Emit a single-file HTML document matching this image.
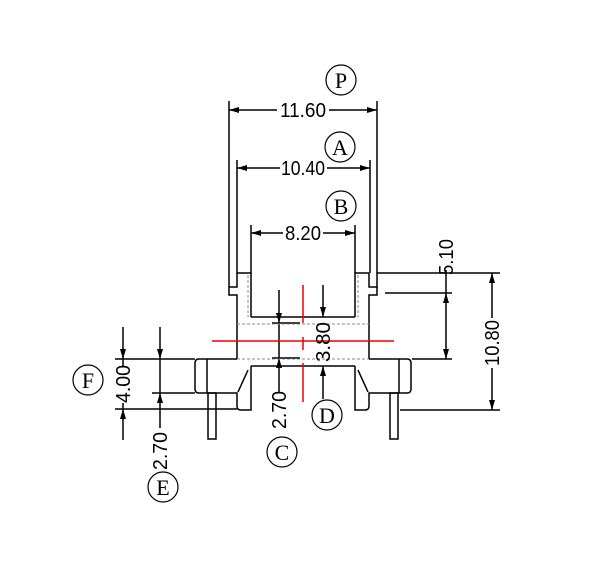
<!DOCTYPE html>
<html><head><meta charset="utf-8"><style>html,body{margin:0;padding:0;background:#fff}svg{display:block}</style></head>
<body>
<svg width="600" height="576" viewBox="0 0 600 576" xmlns="http://www.w3.org/2000/svg" font-family="Liberation Sans, sans-serif">
<defs>
<marker id="a" viewBox="0 0 10 6" refX="10" refY="3" markerWidth="10" markerHeight="6" markerUnits="userSpaceOnUse" orient="auto-start-reverse"><path d="M0,0 L10,3 L0,6 z" fill="#000"/></marker>
</defs>
<g stroke="#000" stroke-width="1.5" fill="none">
<line x1="229" y1="101" x2="229" y2="287"/>
<line x1="377" y1="101" x2="377" y2="287"/>
<line x1="237" y1="160" x2="237" y2="273"/>
<line x1="370" y1="160" x2="370" y2="273"/>
<line x1="251" y1="225" x2="251" y2="273"/>
<line x1="355" y1="225" x2="355" y2="273"/>
<line x1="229" y1="110" x2="277" y2="110" marker-start="url(#a)"/>
<line x1="329" y1="110" x2="377" y2="110" marker-end="url(#a)"/>
<line x1="237" y1="168" x2="280" y2="168" marker-start="url(#a)"/>
<line x1="327" y1="168" x2="370" y2="168" marker-end="url(#a)"/>
<line x1="251" y1="233" x2="283" y2="233" marker-start="url(#a)"/>
<line x1="323" y1="233" x2="355" y2="233" marker-end="url(#a)"/>
<circle cx="341" cy="80" r="15" stroke-width="1.2"/>
<circle cx="340" cy="147" r="15" stroke-width="1.2"/>
<circle cx="341" cy="206" r="15" stroke-width="1.2"/>
<circle cx="88" cy="380" r="15" stroke-width="1.2"/>
<circle cx="163" cy="487" r="15" stroke-width="1.2"/>
<circle cx="282" cy="452" r="15" stroke-width="1.2"/>
<circle cx="327" cy="415" r="15" stroke-width="1.2"/>
<path d="M237,273 H251 V317 M237,273 V287 H229 V295 H237 V359"/>
<path d="M369,273 H355 V317 M369,273 V287 H377 V295 H369 V359"/>
<line x1="251" y1="317" x2="355" y2="317"/>
<line x1="251" y1="366" x2="355" y2="366"/>
<path d="M237,359 H199 Q195,359 195,363 V389 Q195,393 199,393 H237 V406 Q237,410 241,410 H251 V366"/>
<line x1="207" y1="359" x2="207" y2="393"/>
<line x1="248" y1="370" x2="238" y2="392"/>
<rect x="208" y="393" width="8" height="46"/>
<path d="M369,359 H407 Q411,359 411,363 V389 Q411,393 407,393 H369 V406 Q369,410 365,410 H355 V366"/>
<line x1="399" y1="359" x2="399" y2="393"/>
<line x1="358" y1="370" x2="368" y2="392"/>
<rect x="390" y="393" width="8" height="46"/>
<line x1="115" y1="359" x2="195" y2="359"/>
<line x1="115" y1="409" x2="237" y2="409"/>
<line x1="152" y1="393" x2="195" y2="393"/>
<line x1="123" y1="327" x2="123" y2="359" marker-end="url(#a)"/>
<line x1="123" y1="440" x2="123" y2="409" marker-end="url(#a)"/>
<line x1="123" y1="359" x2="123" y2="366"/>
<line x1="123" y1="403" x2="123" y2="409"/>
<line x1="160" y1="327" x2="160" y2="359" marker-end="url(#a)"/>
<line x1="160" y1="359" x2="160" y2="393"/>
<line x1="160" y1="428" x2="160" y2="393" marker-end="url(#a)"/>
<line x1="272" y1="323" x2="300" y2="323"/>
<line x1="272" y1="358" x2="300" y2="358"/>
<line x1="279" y1="290" x2="279" y2="323" marker-end="url(#a)"/>
<line x1="279" y1="323" x2="279" y2="358"/>
<line x1="279" y1="392" x2="279" y2="358" marker-end="url(#a)"/>
<line x1="323" y1="285" x2="323" y2="317" marker-end="url(#a)"/>
<line x1="323" y1="399" x2="323" y2="366" marker-end="url(#a)"/>
<line x1="377" y1="273" x2="500" y2="273"/>
<line x1="385" y1="293" x2="452" y2="293"/>
<line x1="412" y1="359" x2="452" y2="359"/>
<line x1="400" y1="410" x2="500" y2="410"/>
<line x1="446" y1="270" x2="446" y2="293"/>
<line x1="446" y1="326" x2="446" y2="293" marker-end="url(#a)"/>
<line x1="446" y1="326" x2="446" y2="359" marker-end="url(#a)"/>
<line x1="492" y1="318" x2="492" y2="273" marker-end="url(#a)"/>
<line x1="492" y1="368" x2="492" y2="410" marker-end="url(#a)"/>
</g>
<g stroke="#888" stroke-width="1" stroke-dasharray="3,2" fill="none">
<line x1="237" y1="324" x2="369" y2="324"/>
<line x1="237" y1="359" x2="369" y2="359"/>
<line x1="248" y1="275" x2="248" y2="317"/>
<line x1="358" y1="275" x2="358" y2="317"/>
</g>
<g stroke="#e00" stroke-width="1.5">
<line x1="212" y1="341" x2="394" y2="341"/>
<line x1="303" y1="285" x2="303" y2="323"/>
<line x1="303" y1="337" x2="303" y2="350"/>
<line x1="303" y1="363" x2="303" y2="402"/>
</g>
<g font-size="20" fill="#000">
<text x="303" y="117" text-anchor="middle" textLength="46" lengthAdjust="spacingAndGlyphs">11.60</text>
<text x="303" y="175" text-anchor="middle" textLength="44" lengthAdjust="spacingAndGlyphs">10.40</text>
<text x="303" y="240" text-anchor="middle" textLength="36" lengthAdjust="spacingAndGlyphs">8.20</text>
<text x="341" y="88" text-anchor="middle" font-family="Liberation Serif, serif" font-size="22">P</text>
<text x="340" y="155" text-anchor="middle" font-family="Liberation Serif, serif" font-size="22">A</text>
<text x="341" y="214" text-anchor="middle" font-family="Liberation Serif, serif" font-size="22">B</text>
<text x="88" y="388" text-anchor="middle" font-family="Liberation Serif, serif" font-size="22">F</text>
<text x="163" y="495" text-anchor="middle" font-family="Liberation Serif, serif" font-size="22">E</text>
<text x="282" y="460" text-anchor="middle" font-family="Liberation Serif, serif" font-size="22">C</text>
<text x="327" y="423" text-anchor="middle" font-family="Liberation Serif, serif" font-size="22">D</text>
<text transform="translate(130,384) rotate(-90)" text-anchor="middle" textLength="38" lengthAdjust="spacingAndGlyphs">4.00</text>
<text transform="translate(167,451) rotate(-90)" text-anchor="middle" textLength="38" lengthAdjust="spacingAndGlyphs">2.70</text>
<text transform="translate(286,410) rotate(-90)" text-anchor="middle" textLength="38" lengthAdjust="spacingAndGlyphs">2.70</text>
<text transform="translate(330,342) rotate(-90)" text-anchor="middle" textLength="40" lengthAdjust="spacingAndGlyphs">3.80</text>
<text transform="translate(453,257) rotate(-90)" text-anchor="middle" textLength="36" lengthAdjust="spacingAndGlyphs">5.10</text>
<text transform="translate(499,343) rotate(-90)" text-anchor="middle" textLength="46" lengthAdjust="spacingAndGlyphs">10.80</text>
</g>
</svg>
</body></html>
